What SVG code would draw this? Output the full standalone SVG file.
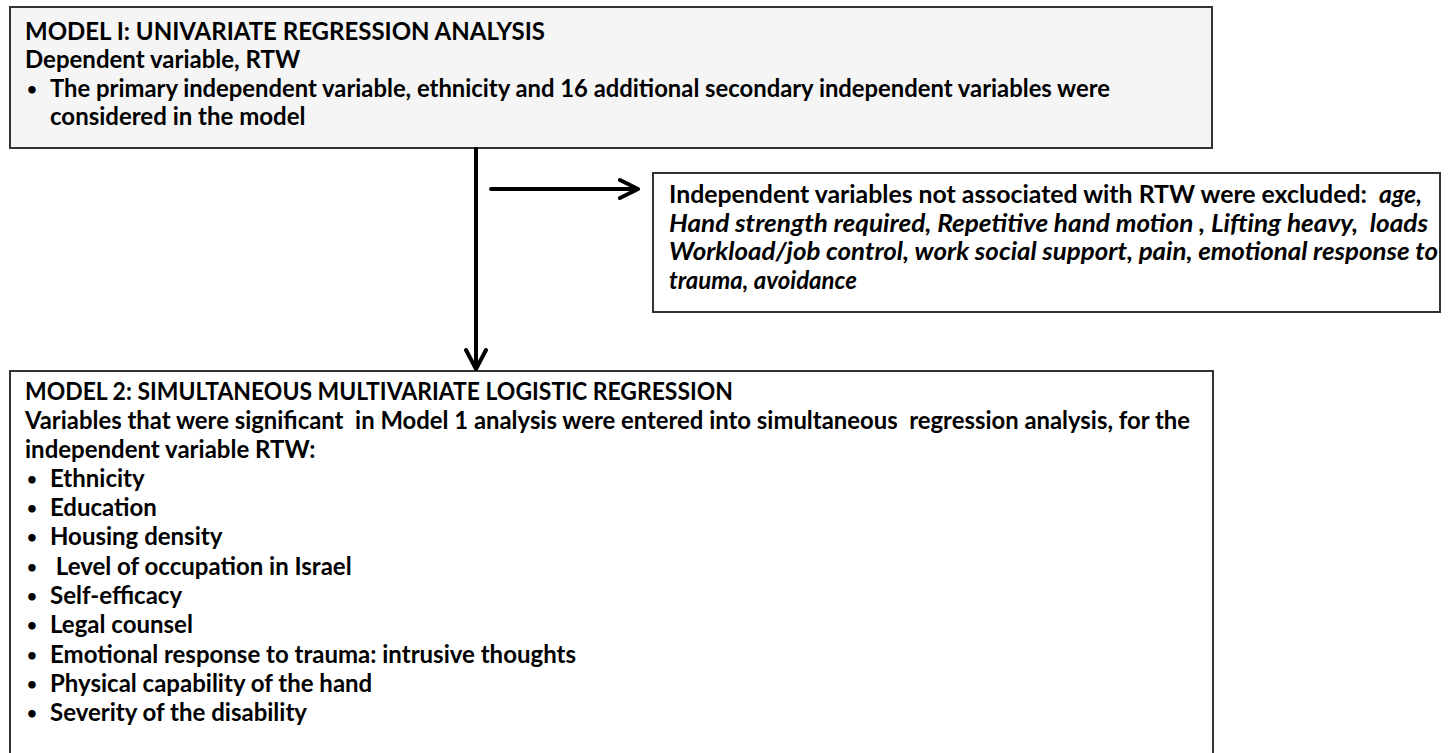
<svg xmlns="http://www.w3.org/2000/svg" width="1451" height="753" viewBox="0 0 1451 753">
<style>
text { font-family: Lato, "Open Sans", "Liberation Sans", sans-serif; font-weight: bold; font-size: 24px; fill: #000; white-space: pre; }
.it { font-style: italic; }
.b { font-size: 17px; }
.box { stroke: #333; stroke-width: 2; }
.conn { stroke: #000; stroke-width: 4; fill: none; stroke-linecap: round; stroke-linejoin: round; }
</style>
<rect width="1451" height="753" fill="#fff"/>
<g id="model1">
<rect class="box" x="10" y="7" width="1202" height="141" fill="#f5f5f5"/>
<text x="25" y="40" textLength="520" lengthAdjust="spacingAndGlyphs">MODEL I: UNIVARIATE REGRESSION ANALYSIS</text>
<text x="25" y="68">Dependent variable, RTW</text>
<text class="b" x="27" y="95">•</text>
<text x="50" y="97" textLength="1060" lengthAdjust="spacingAndGlyphs">The primary independent variable, ethnicity and 16 additional secondary independent variables were</text>
<text x="50" y="125">considered in the model</text>
</g>
<g id="excluded">
<rect class="box" x="653" y="173" width="787" height="139" fill="#fff"/>
<text x="669" y="203" textLength="753" lengthAdjust="spacingAndGlyphs">Independent variables not associated with RTW were excluded:  <tspan class="it">age,</tspan></text>
<text x="669" y="232" class="it" textLength="759" lengthAdjust="spacingAndGlyphs">Hand strength required, Repetitive hand motion , Lifting heavy,  loads</text>
<text x="669" y="260" class="it" textLength="769" lengthAdjust="spacingAndGlyphs">Workload/job control, work social support, pain, emotional response to</text>
<text x="669" y="289" class="it">trauma, avoidance</text>
</g>
<g id="model2">
<rect class="box" x="10" y="371" width="1203" height="400" fill="#fff"/>
<text x="25" y="400" textLength="708" lengthAdjust="spacingAndGlyphs">MODEL 2: SIMULTANEOUS MULTIVARIATE LOGISTIC REGRESSION</text>
<text x="25" y="429" textLength="1165" lengthAdjust="spacingAndGlyphs">Variables that were significant  in Model 1 analysis were entered into simultaneous  regression analysis, for the</text>
<text x="25" y="458">independent variable RTW:</text>
<text class="b" x="27" y="485">•</text><text x="50" y="487">Ethnicity</text>
<text class="b" x="27" y="514">•</text><text x="50" y="516">Education</text>
<text class="b" x="27" y="543">•</text><text x="50" y="545">Housing density</text>
<text class="b" x="27" y="573">•</text><text x="50" y="575"> Level of occupation in Israel</text>
<text class="b" x="27" y="602">•</text><text x="50" y="604">Self-efficacy</text>
<text class="b" x="27" y="631">•</text><text x="50" y="633">Legal counsel</text>
<text class="b" x="27" y="661">•</text><text x="50" y="663">Emotional response to trauma: intrusive thoughts</text>
<text class="b" x="27" y="690">•</text><text x="50" y="692">Physical capability of the hand</text>
<text class="b" x="27" y="719">•</text><text x="50" y="721">Severity of the disability</text>
</g>
<g id="connectors">
<path class="conn" d="M476 149 V368 M466 350 L476 369 L486 350"/>
<path class="conn" d="M491 189 H637 M620 180 L638 189 L620 198"/>
</g>
</svg>
